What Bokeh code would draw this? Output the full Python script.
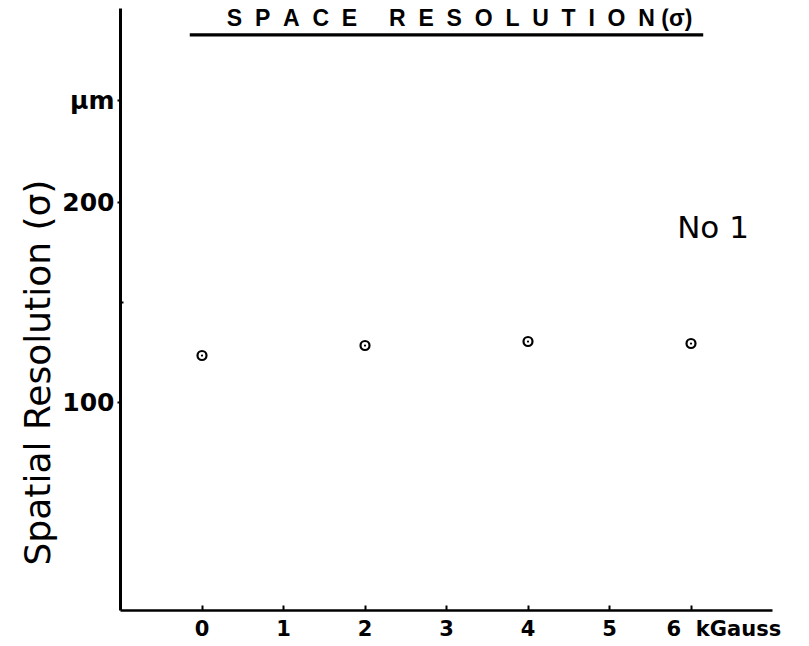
from bokeh.plotting import figure
from bokeh.models import Range1d, FixedTicker, Label, BoxAnnotation, Title
from bokeh.embed import file_html
from bokeh.resources import INLINE

# data
field_kgauss = [0, 2, 4, 6]
resolution_um = [123.5, 128.5, 130.5, 129.5]
x_ticks = [0, 1, 2, 3, 4, 5, 6]
y_ticks = [100, 200]
y_minor_ticks = [150]
unit_tick = 251          # where the "μm" unit sits on the y axis
x_unit = "kGauss"
y_unit = "μm"

FONT = "DejaVu Sans"
NB = "\u00a0"

p = figure(width=809, height=646, output_backend="svg", toolbar_location=None,
           x_range=Range1d(-1, 7), y_range=Range1d(-4, 297),
           min_border_left=120, min_border_right=37, min_border_top=8, min_border_bottom=36)
p.outline_line_color = None
p.xgrid.visible = False
p.ygrid.visible = False
p.background_fill_color = "white"
p.border_fill_color = "white"

p.scatter(field_kgauss, resolution_um, marker="circle_dot", size=9,
          line_color="black", fill_color="white", line_width=2.2)

# x axis
xa = p.xaxis[0]
xa.ticker = FixedTicker(ticks=x_ticks)
xa.major_label_overrides = {6: NB * 9 + "6" + NB * 2 + x_unit}
xa.axis_line_width = 2.5
xa.major_tick_in = 5
xa.major_tick_out = 0
xa.major_tick_line_width = 2
xa.minor_tick_line_color = None
xa.major_label_standoff = 6
xa.major_label_text_font = FONT
xa.major_label_text_font_style = "bold"
xa.major_label_text_font_size = "21px"
xa.major_label_text_color = "black"

# y axis
ya = p.yaxis[0]
ya.ticker = FixedTicker(ticks=y_ticks + [unit_tick], minor_ticks=y_minor_ticks)
ya.major_label_overrides = {unit_tick: y_unit}
ya.axis_line_width = 3
ya.major_tick_in = 0
ya.major_tick_out = 3
ya.major_tick_line_width = 2
ya.minor_tick_in = 3
ya.minor_tick_out = 0
ya.minor_tick_line_width = 2
ya.major_label_standoff = 3
ya.major_label_text_font = FONT
ya.major_label_text_font_style = "bold"
ya.major_label_text_font_size = "25px"
ya.major_label_text_color = "black"

# y axis title, in the left panel
p.add_layout(Title(text="Spatial Resolution (σ)", align="left", offset=45, standoff=4,
                   text_font=FONT, text_font_style="normal", text_font_size="36px",
                   text_color="black"), "left")

# chart title with underline
title_text = (NB * 2).join(list("SPACE")) + NB * 5 + (NB * 2).join(list("RESOLUTION")) + NB + "(σ)"
p.add_layout(Label(x=3.16, y=292.5, text=title_text,
                   text_align="center", text_baseline="middle", text_color="black",
                   text_font="Liberation Sans", text_font_style="bold", text_font_size="23px"))
p.add_layout(BoxAnnotation(left=-0.15, right=6.15, bottom=283, top=284.6,
                           fill_color="black", fill_alpha=1, line_alpha=0))

# panel name
p.add_layout(Label(x=6.27, y=188, text="No 1", text_align="center", text_color="black",
                   text_baseline="middle", text_font=FONT, text_font_size="31px"))

open("out.html", "w").write(file_html(p, INLINE))
